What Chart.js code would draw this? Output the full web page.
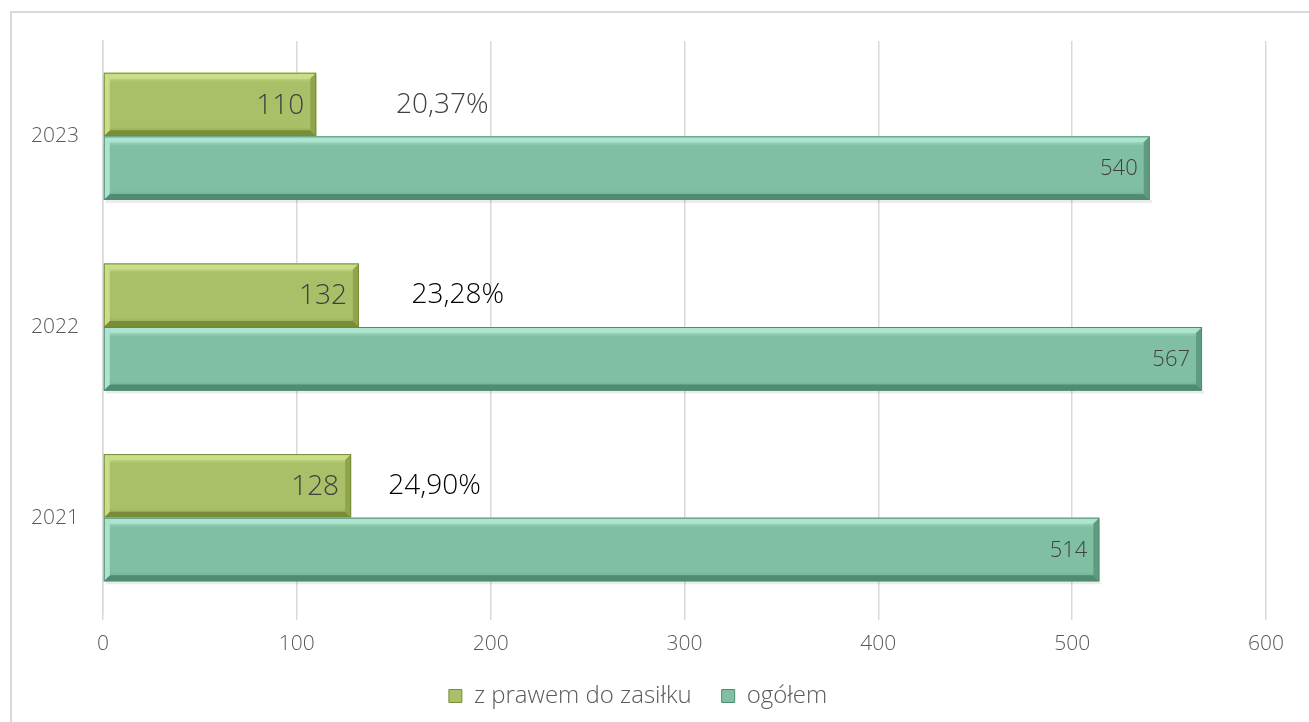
<!DOCTYPE html>
<html lang="pl">
  <head>
    <meta charset="UTF-8" />
    <title>Bezrobotni z prawem do zasiłku</title>
    <script src="https://cdn.jsdelivr.net/npm/chart.js"></script>
    <style>
      body { margin: 0; background: #fff; overflow: hidden; }
      .frame { position: absolute; left: 10px; top: 11px; width: 1320px; height: 740px; border: 2px solid #d9d9d9; box-sizing: border-box; }
      .wrap { position: absolute; left: 0; top: 0; width: 1309px; height: 722px; }
    </style>
  </head>
  <body>
    <div class="frame"></div>
    <div class="wrap"><canvas id="chart"></canvas></div>

    <script>
      // lata od góry do dołu, jak na wykresie
      const years = ['2023', '2022', '2021'];
      const zPrawem = [110, 132, 128];
      const ogolem = [540, 567, 514];
      // gdzie stoją etykiety procentowe (w jednostkach osi X)
      const pctAt = [175, 183, 171];

      const font = "'Open Sans', 'DejaVu Sans', sans-serif";

      const palettes = [
        { top: '#d6ea98', mid: '#a9c068', bot: '#8a9d44', light: '#c9de88', dark: '#7b8c39', side: '#90a44c' },
        { top: '#c6f2e2', mid: '#80bfa3', bot: '#66a488', light: '#ace5cf', dark: '#4f8c71', side: '#5f9b80' }
      ];

      const bevelPlugin = {
        id: 'bevel',
        afterDatasetsDraw(chart) {
          const ctx = chart.ctx;
          const xs = chart.scales.x;
          chart.data.datasets.forEach((ds, di) => {
            const meta = chart.getDatasetMeta(di);
            const p = palettes[di];
            meta.data.forEach((el, i) => {
              const { x, y, base, height } = el.getProps(['x', 'y', 'base', 'height'], true);
              const l = base, r = x, t = y - height / 2, b = y + height / 2;
              const bv = 6;
              ctx.save();
              // cień
              ctx.fillStyle = 'rgba(0,0,0,0.08)';
              ctx.fillRect(l + 2, b, r - l, 3);
              const g = ctx.createLinearGradient(0, t, 0, b);
              g.addColorStop(0, p.top);
              g.addColorStop(0.15, p.mid);
              g.addColorStop(0.85, p.mid);
              g.addColorStop(1, p.bot);
              ctx.fillStyle = g;
              ctx.fillRect(l, t, r - l, b - t);
              const quad = (pts, c) => {
                ctx.beginPath();
                ctx.moveTo(pts[0], pts[1]);
                for (let k = 2; k < pts.length; k += 2) ctx.lineTo(pts[k], pts[k + 1]);
                ctx.closePath();
                ctx.fillStyle = c;
                ctx.fill();
              };
              quad([l, t, r, t, r - bv, t + bv, l + bv, t + bv], p.light);
              quad([l, b, r, b, r - bv, b - bv, l + bv, b - bv], p.dark);
              quad([r, t, r, b, r - bv, b - bv, r - bv, t + bv], p.side);
              quad([l, t, l, b, l + bv, b - bv, l + bv, t + bv], p.light);
              ctx.strokeStyle = p.dark;
              ctx.lineWidth = 1;
              ctx.strokeRect(l + 0.5, t + 0.5, r - l - 1, b - t - 1);

              // wartości
              ctx.fillStyle = '#404040';
              ctx.textAlign = 'right';
              ctx.textBaseline = 'middle';
              ctx.font = (di === 0 ? '300 28px ' : '300 22px ') + font;
              ctx.fillText(String(ds.data[i]), r - 12, y + 1);
              ctx.restore();
            });
          });

          // udział procentowy
          const green = chart.getDatasetMeta(0).data;
          ctx.save();
          ctx.font = '300 28px ' + font;
          ctx.textAlign = 'center';
          ctx.textBaseline = 'middle';
          years.forEach((yr, i) => {
            const pct = (zPrawem[i] / ogolem[i] * 100).toFixed(2).replace('.', ',') + '%';
            ctx.fillStyle = i === 0 ? '#404040' : '#000';
            ctx.fillText(pct, xs.getPixelForValue(pctAt[i]), green[i].y);
          });
          ctx.restore();
        }
      };

      const ctx = document.getElementById('chart').getContext('2d');
      new Chart(ctx, {
        type: 'bar',
        data: {
          labels: years,
          datasets: [
            {
              label: 'z prawem do zasiłku',
              data: zPrawem,
              backgroundColor: '#a9c068',
              borderColor: '#7b8c39',
              borderWidth: 1,
              categoryPercentage: 0.667,
              barPercentage: 1.0
            },
            {
              label: 'ogółem',
              data: ogolem,
              backgroundColor: '#80bfa3',
              borderColor: '#4f8c71',
              borderWidth: 1,
              categoryPercentage: 0.667,
              barPercentage: 1.0
            }
          ]
        },
        options: {
          indexAxis: 'y',
          responsive: true,
          maintainAspectRatio: false,
          animation: false,
          layout: { padding: { left: 10, top: 41, right: 43, bottom: 4 } },
          scales: {
            x: {
              min: 0,
              max: 600,
              ticks: { stepSize: 100, color: '#595959', font: { family: font, size: 21, weight: 300 }, padding: 11 },
              grid: { color: '#d9d9d9', lineWidth: 1.5, tickLength: 7 },
              border: { display: false },
              afterFit(scale) { scale.height = 41; }
            },
            y: {
              ticks: { color: '#595959', font: { family: font, size: 21, weight: 300 }, padding: 24 },
              grid: { color: 'transparent', drawTicks: false },
              border: { display: true, color: '#d9d9d9', width: 1.5 },
              afterFit(scale) { scale.width = 93; }
            }
          },
          plugins: {
            legend: {
              position: 'bottom',
              labels: {
                color: '#595959',
                font: { family: font, size: 24, weight: 300 },
                boxWidth: 13,
                boxHeight: 13,
                padding: 30
              }
            },
            tooltip: { enabled: false }
          }
        },
        plugins: [bevelPlugin]
      });
    </script>
  </body>
</html>
